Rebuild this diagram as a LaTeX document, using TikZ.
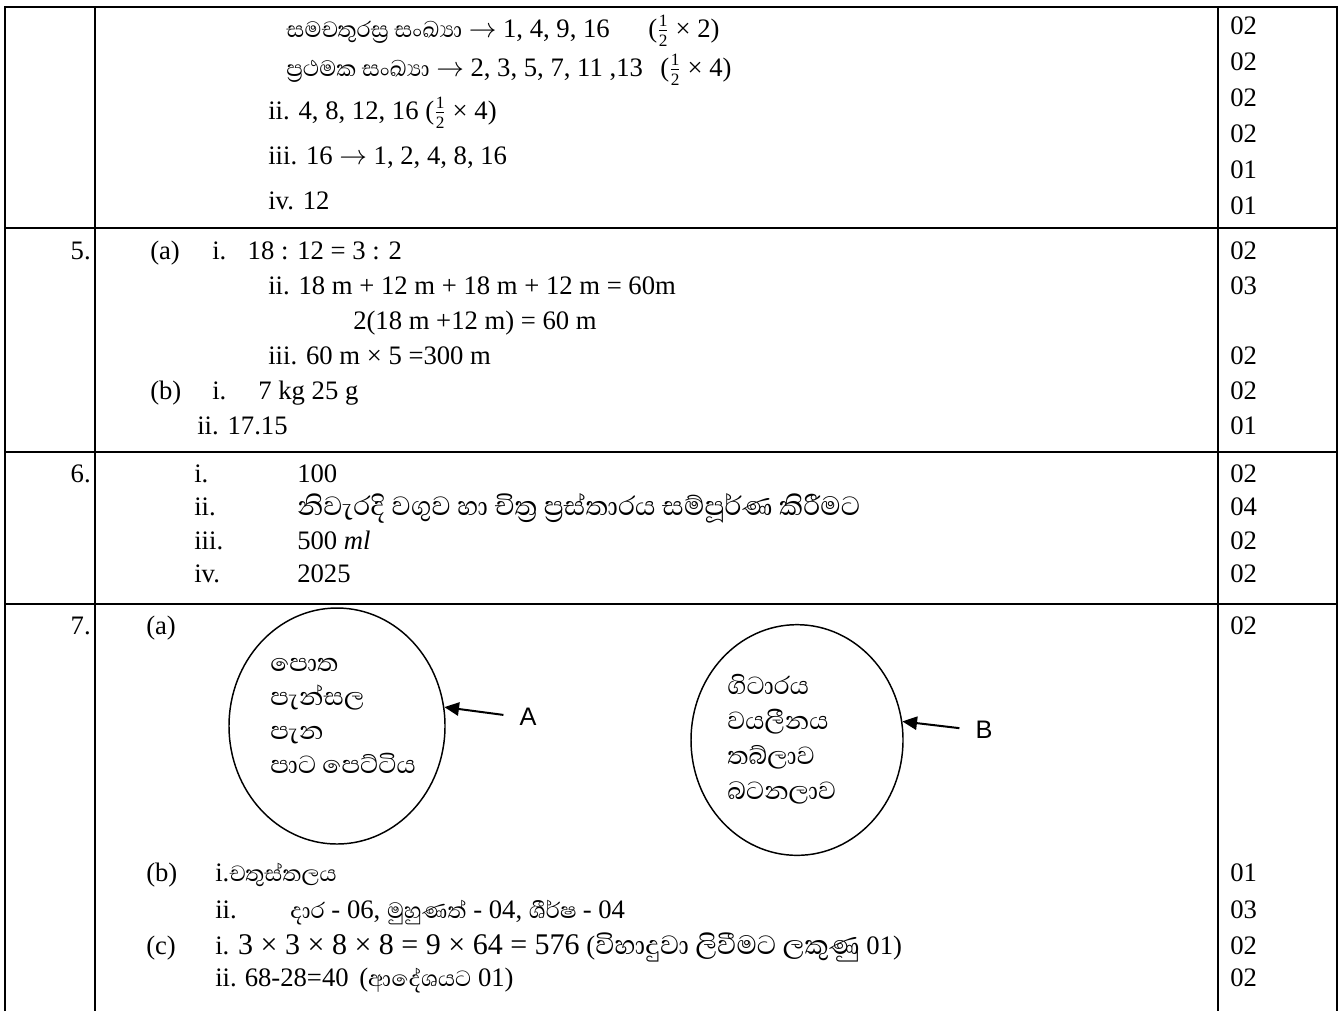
\documentclass[tikz,border=0pt]{standalone}
\usepackage{fontspec}
\setmainfont{Liberation Serif}
\newfontfamily\sinhala[Script=Sinhala,Scale=1.06]{Abhaya Libre}
\newfontfamily\labelsans{Liberation Sans}
\usetikzlibrary{shapes.geometric,arrows.meta,positioning}

\newcommand{\rowfont}{\fontsize{20}{24}\selectfont}
\newcommand{\sib}[1]{{\sinhala #1}}
\newcommand{\sibig}[1]{{\fontsize{24}{28}\selectfont\sinhala #1}}
\newcommand{\halfof}{$\frac{\mbox{\fontsize{13}{13}\selectfont 1}}{\mbox{\fontsize{13}{13}\selectfont 2}}$}

\begin{document}
\begin{tikzpicture}[
    x=0.75pt, y=-0.75pt,
    rule/.style={line width=1.4pt},
    txt/.style={anchor=base west, inner sep=0pt, font=\rowfont},
    qno/.style={anchor=base east, inner sep=0pt, font=\rowfont},
    pts/.style={anchor=base west, inner sep=0pt, font=\rowfont},
    setbox/.style={ellipse, draw, line width=1.1pt, inner sep=0pt},
    item/.style={anchor=base west, inner sep=0pt, font=\fontsize{22.5}{26}\selectfont\sinhala},
    lbl/.style={inner sep=0pt, font=\fontsize{19}{22}\selectfont\labelsans},
    arrow/.style={-{Triangle[length=11pt,width=10pt]}, line width=1.5pt}
]
\useasboundingbox (0,0) rectangle (1344,1011);

% Table rules
\draw[rule] (5,1011) -- (5,7) -- (1337,7) -- (1337,1011);
\draw[rule] (95,7) -- (95,1011);
\draw[rule] (1218,7) -- (1218,1011);
\draw[rule] (5,228) -- (1337,228);
\draw[rule] (5,452) -- (1337,452);
\draw[rule] (5,604) -- (1337,604);

% Question 4 (continued)
\node[txt] (sqr) at (286,37) {\sib{සමචතුරස්^^^^200dර සංඛ්^^^^200dයා} $\rightarrow$ 1, 4, 9, 16};
\node[txt] (sqrpts) at (648,37) {(\halfof{} × 2)};
\node[txt] (prm) at (286,76) {\sib{ප්^^^^200dරථමක සංඛ්^^^^200dයා} $\rightarrow$ 2, 3, 5, 7, 11 ,13};
\node[txt] (prmpts) at (660,76) {(\halfof{} × 4)};
\node[txt] (q4ii) at (268,119) {ii. 4, 8, 12, 16 (\halfof{} × 4)};
\node[txt] (q4iii) at (268,164) {iii. 16 $\rightarrow$ 1, 2, 4, 8, 16};
\node[txt] (q4iv) at (268,209) {iv. 12};

\node[pts] (s4a) at (1230,34) {02};
\node[pts] (s4b) at (1230,70) {02};
\node[pts] (s4c) at (1230,106) {02};
\node[pts] (s4d) at (1230,142) {02};
\node[pts] (s4e) at (1230,178) {01};
\node[pts] (s4f) at (1230,214) {01};

% Question 5
\node[qno] (n5) at (91,259) {5.};
\node[txt] (p5a) at (150,259) {(a)};
\node[txt] (q5ai) at (212,259) {i.\hspace{16pt}18 : 12 = 3 : 2};
\node[txt] (q5aii) at (268,294) {ii. 18 m + 12 m + 18 m + 12 m = 60m};
\node[txt] (q5aiib) at (353,329) {2(18 m +12 m) = 60 m};
\node[txt] (q5aiii) at (268,364) {iii. 60 m × 5 =300 m};
\node[txt] (p5b) at (150,399) {(b)};
\node[txt] (q5bi) at (212,399) {i.\hspace{24pt}7 kg 25 g};
\node[txt] (q5bii) at (197,434) {ii. 17.15};

\node[pts] (s5a) at (1230,259) {02};
\node[pts] (s5b) at (1230,294) {03};
\node[pts] (s5c) at (1230,364) {02};
\node[pts] (s5d) at (1230,399) {02};
\node[pts] (s5e) at (1230,434) {01};

% Question 6
\node[qno] (n6) at (91,482) {6.};
\node[txt] (q6i) at (194,482) {i.};
\node[txt] (a6i) at (297,482) {100};
\node[txt] (q6ii) at (194,515) {ii.};
\node[txt] (a6ii) at (297,515) {\sibig{නිවැරදි වගුව හා චිත්^^^^200dර ප්^^^^200dරස්තාරය සම්පූර්ණ කිරීමට}};
\node[txt] (q6iii) at (194,549) {iii.};
\node[txt] (a6iii) at (297,549) {500 \textit{ml}};
\node[txt] (q6iv) at (194,582) {iv.};
\node[txt] (a6iv) at (297,582) {2025};

\node[pts] (s6a) at (1230,482) {02};
\node[pts] (s6b) at (1230,515) {04};
\node[pts] (s6c) at (1230,549) {02};
\node[pts] (s6d) at (1230,582) {02};

% Question 7
\node[qno] (n7) at (91,634) {7.};
\node[txt] (p7a) at (146,634) {(a)};

% Sets A and B
\node[setbox, minimum width=162pt, minimum height=177pt] (setA) at (337,726) {};
\node[item] (a1) at (270,671) {පොත};
\node[item] (a2) at (270,705) {පැන්සල};
\node[item] (a3) at (270,739) {පැන};
\node[item] (a4) at (270,773) {පාට පෙට්ටිය};

\node[setbox, minimum width=159pt, minimum height=173pt] (setB) at (797,740) {};
\node[item] (b1) at (727,694) {ගිටාරය};
\node[item] (b2) at (727,729) {වයලීනය};
\node[item] (b3) at (727,764) {තබ්ලාව};
\node[item] (b4) at (727,799) {බටනලාව};

\node[lbl] (labA) at (528,717) {A};
\node[lbl] (labB) at (984,730) {B};
\draw[arrow, shorten <=12pt] (labA.west) -- (setA.10);
\draw[arrow, shorten <=12pt] (labB.west) -- (setB.10);

\node[txt] (p7b) at (146,881) {(b)};
\node[txt] (q7bi) at (215,881) {i.\sib{චතුස්තලය}};
\node[txt] (q7bii) at (215,918) {ii.};
\node[txt] (a7bii) at (290,918) {\sib{දාර} - 06, \sib{මුහුණත්} - 04, \sib{ශීර්ෂ} - 04};
\node[txt] (p7c) at (146,954) {(c)};
\node[txt] (q7ci) at (215,954) {i. {\fontsize{22.5}{26}\selectfont 3 × 3 × 8 × 8 = 9 × 64 = 576} (\sibig{විහාදුවා ලිවීමට ලකුණු} 01)};
\node[txt] (q7cii) at (215,986) {ii.\hspace{6pt}68-28=40\hspace{8pt}(\sib{ආදේශයට} 01)};

\node[pts] (s7a) at (1230,634) {02};
\node[pts] (s7b) at (1230,881) {01};
\node[pts] (s7c) at (1230,918) {03};
\node[pts] (s7d) at (1230,954) {02};
\node[pts] (s7e) at (1230,986) {02};

\end{tikzpicture}
\end{document}
